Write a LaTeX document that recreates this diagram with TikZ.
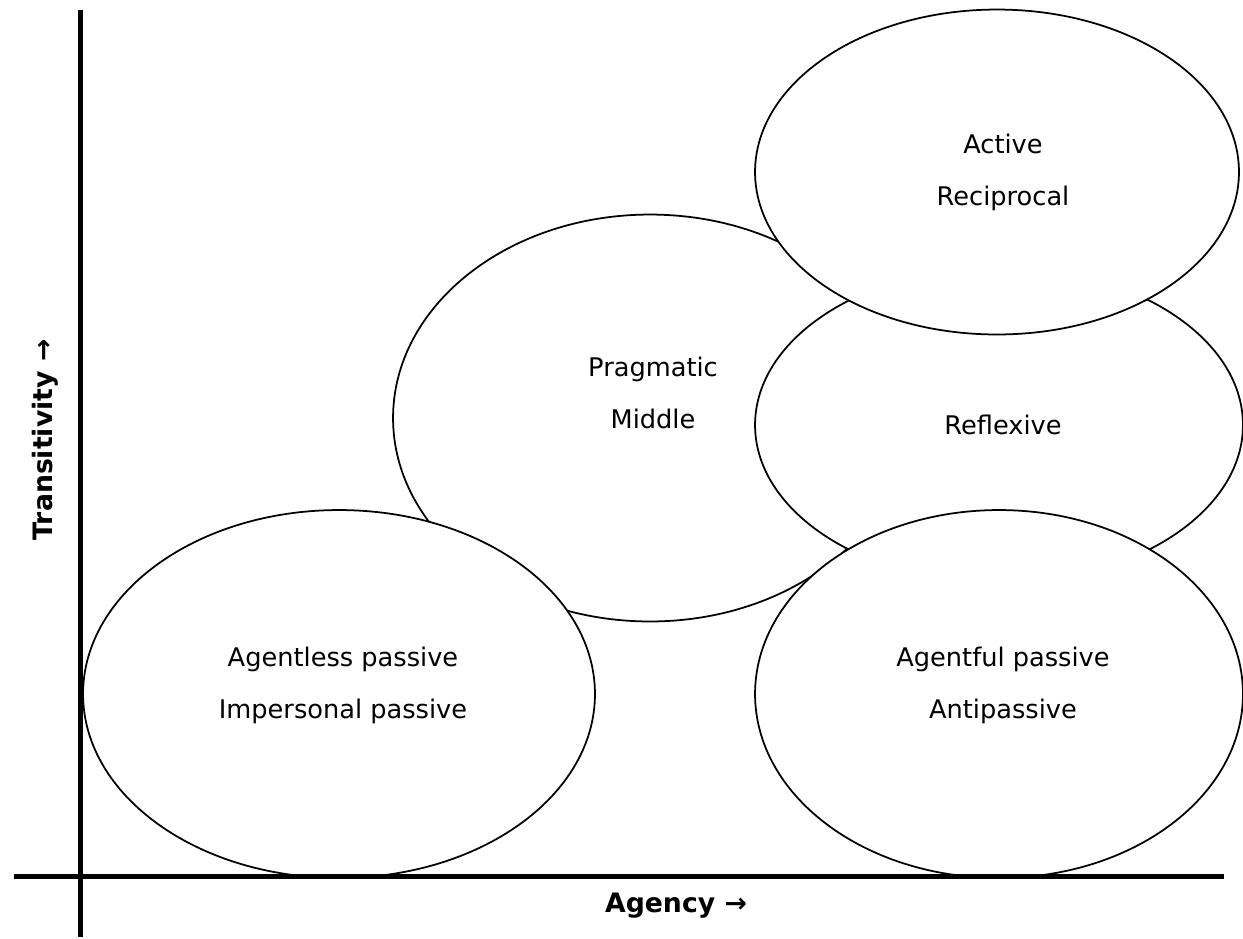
\documentclass[tikz,border=0pt]{standalone}
\usepackage{fontspec}
\setmainfont{DejaVu Sans}
\usetikzlibrary{shapes.geometric}
\begin{document}
\begin{tikzpicture}[x=0.02cm, y=-0.02cm,
  blob/.style={ellipse, draw, fill=white, line width=1pt, inner sep=0pt},
  voice/.style={align=center, font=\fontsize{14.6}{29.6}\selectfont},
  axislabel/.style={font=\fontsize{15.2}{18}\selectfont\bfseries},
  axisline/.style={line width=3.2pt}]
\useasboundingbox (0,0) rectangle (1243,938);
\node[blob, minimum width=10.28cm, minimum height=8.14cm] (prag) at (650,418){};
\node[blob, minimum width=9.76cm, minimum height=6.32cm] (refl) at (999,425){};
\node[blob, minimum width=9.68cm, minimum height=6.5cm] (act) at (997,172){};
\node[blob, minimum width=10.24cm, minimum height=7.36cm] (agless) at (339,694){};
\node[blob, minimum width=9.76cm, minimum height=7.36cm] (agful) at (999,694){};
\node[voice] (tact) at (1003,172){Active\\Reciprocal};
\node[voice] (tprag) at (653,393){Pragmatic\\Middle};
\node[voice] (trefl) at (1003,425){Reflexive};
\node[voice] (tagless) at (343,685){Agentless passive\\Impersonal passive};
\node[voice] (tagful) at (1003,685){Agentful passive\\Antipassive};
\draw[axisline] (80.5,10) -- (80.5,937);
\draw[axisline] (14,876.5) -- (1224,876.5);
\node[axislabel] (agency) at (676,906){Agency →};
\node[axislabel, rotate=90] (trans) at (45,440){Transitivity →};
\end{tikzpicture}
\end{document}
